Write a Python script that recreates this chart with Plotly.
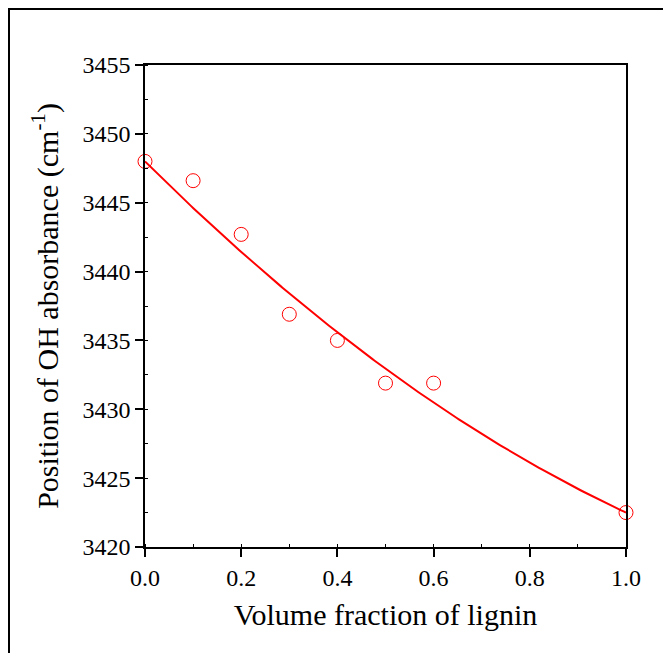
import numpy as np
import plotly.graph_objects as go

# Data
volume_fraction = [0.0, 0.1, 0.2, 0.3, 0.4, 0.5, 0.6, 1.0]
oh_position = [3448.0, 3446.6, 3442.7, 3436.9, 3435.0, 3431.9, 3431.9, 3422.5]

x_ticks = [0.0, 0.2, 0.4, 0.6, 0.8, 1.0]
y_ticks = [3420, 3425, 3430, 3435, 3440, 3445, 3450, 3455]

# Second-order fit anchored at the end points, curvature fitted to the interior points
xv = np.array(volume_fraction)
yv = np.array(oh_position)
y0, y1 = yv[0], yv[-1]
base = y0 + (y1 - y0) * xv
basis = xv * (1 - xv)
c = np.sum((yv - base) * basis) / np.sum(basis ** 2)
fit_x = np.linspace(0, 1, 200)
fit_y = y0 + (y1 - y0) * fit_x + c * fit_x * (1 - fit_x)

FONT = "Liberation Serif"

fig = go.Figure()
fig.add_trace(go.Scatter(
    x=fit_x, y=fit_y, mode="lines",
    line=dict(color="#ff0000", width=2),
    hoverinfo="skip", showlegend=False, cliponaxis=False,
))
fig.add_trace(go.Scatter(
    x=volume_fraction, y=oh_position, mode="markers",
    marker=dict(symbol="circle-open", size=14, color="#ff0000",
                line=dict(color="#ff0000", width=1)),
    showlegend=False, cliponaxis=False,
))

axis_common = dict(
    showgrid=False, zeroline=False, showline=True, linecolor="black",
    linewidth=1.5, mirror=True, ticks="outside", ticklen=8, tickwidth=1.5,
    tickcolor="black", tickfont=dict(family=FONT, size=24, color="black"),
)

fig.update_xaxes(
    **axis_common,
    range=[0, 1], tickvals=x_ticks, ticktext=[f"{v:.1f}" for v in x_ticks],
    minor=dict(ticks="inside", ticklen=3, tickwidth=1, tickcolor="black", dtick=0.1),
    title=dict(text="Volume fraction of lignin",
               font=dict(family=FONT, size=30, color="black"), standoff=14),
)
fig.update_yaxes(
    **axis_common,
    range=[3420, 3455], tickvals=y_ticks, ticktext=[str(v) for v in y_ticks],
    minor=dict(ticks="inside", ticklen=3, tickwidth=1, tickcolor="black", dtick=2.5),
    title=dict(text="Position of OH absorbance (cm<sup>-1</sup>)",
               font=dict(family=FONT, size=30, color="black"), standoff=15),
)

# Figure is placed at the page's 8px body margin
W, H = 655, 645
L, R, T, B = 137, 37, 57, 106
pw, ph = W - L - R, H - T - B
def px_to_paper_x(px):
    return (px - L) / pw
def px_to_paper_y(py):
    return (H - B - py) / ph

# Outer frame (left and top edges visible in the reference)
fig.add_shape(type="line", xref="paper", yref="paper",
              x0=px_to_paper_x(1), x1=px_to_paper_x(1),
              y0=px_to_paper_y(0), y1=px_to_paper_y(H + 5),
              line=dict(color="black", width=2))
fig.add_shape(type="line", xref="paper", yref="paper",
              x0=px_to_paper_x(0), x1=px_to_paper_x(W + 5),
              y0=px_to_paper_y(1), y1=px_to_paper_y(1),
              line=dict(color="black", width=2))

fig.update_layout(
    width=W, height=H,
    margin=dict(l=L, r=R, t=T, b=B, autoexpand=False),
    plot_bgcolor="white", paper_bgcolor="white",
    font=dict(family=FONT, color="black"),
)

fig.write_html("out.html")
